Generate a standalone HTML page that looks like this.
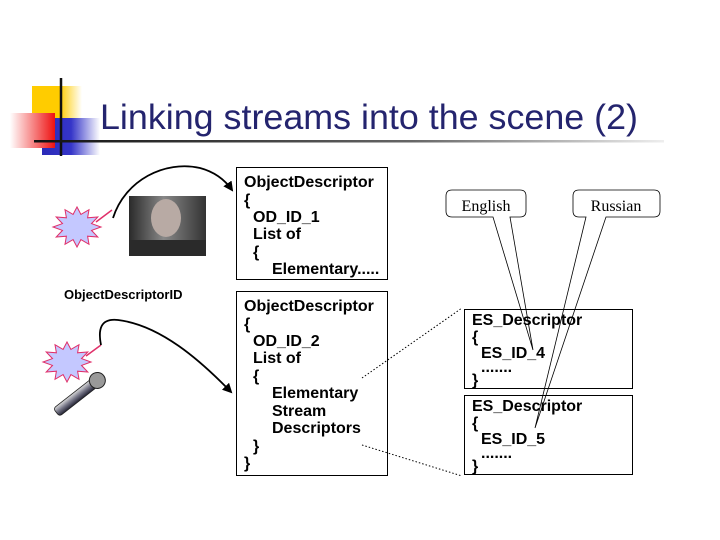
<!DOCTYPE html>
<html><head><meta charset="utf-8"><style>
html,body{margin:0;padding:0;background:#fff;}
svg{display:block;}
.t{font-family:"Liberation Sans",Arial,sans-serif;font-weight:bold;font-size:16px;fill:#000;}
</style></head><body>
<svg width="720" height="540" viewBox="0 0 720 540" xmlns="http://www.w3.org/2000/svg">
<defs>
<linearGradient id="yg" x1="0" x2="1"><stop offset="0" stop-color="#ffcc00"/><stop offset="0.55" stop-color="#ffcc00"/><stop offset="1" stop-color="#fff"/></linearGradient>
<linearGradient id="bg" x1="0" x2="1"><stop offset="0" stop-color="#2a2ab8"/><stop offset="0.5" stop-color="#3535c8"/><stop offset="1" stop-color="#fff"/></linearGradient>
<linearGradient id="rg" x1="0" x2="1"><stop offset="0" stop-color="#fff"/><stop offset="1" stop-color="#ee1111"/></linearGradient>
<linearGradient id="lg" x1="0" x2="1"><stop offset="0" stop-color="#111"/><stop offset="0.6" stop-color="#666"/><stop offset="1" stop-color="#eee"/></linearGradient>
<linearGradient id="mg" x1="0" x2="0" y1="0" y2="1"><stop offset="0" stop-color="#ddd"/><stop offset="0.5" stop-color="#778"/><stop offset="1" stop-color="#223"/></linearGradient>
<linearGradient id="ph" x1="0" x2="1"><stop offset="0" stop-color="#2a2a2a"/><stop offset="0.45" stop-color="#888"/><stop offset="1" stop-color="#333"/></linearGradient>
<path id="star" d="M24,0 L14.5,3.4 L20.8,10 L10.6,9.2 L12,17.3 L3.9,12.6 L0,20 L-3.9,12.6 L-12,17.3 L-10.6,9.2 L-20.8,10 L-14.5,3.4 L-24,0 L-14.5,-3.4 L-20.8,-10 L-10.6,-9.2 L-12,-17.3 L-3.9,-12.6 L0,-20 L3.9,-12.6 L12,-17.3 L10.6,-9.2 L20.8,-10 L14.5,-3.4 Z" fill="#c4c8ff" stroke="#e0306a" stroke-width="1"/>
<marker id="ar" markerWidth="10" markerHeight="10" refX="8" refY="5" orient="auto" markerUnits="userSpaceOnUse"><path d="M0,0 L10,5 L0,10 Z" fill="#000"/></marker>
</defs>
<rect x="32" y="86" width="50" height="33" fill="url(#yg)"/>
<rect x="42" y="118" width="58" height="37" fill="url(#bg)"/>
<rect x="10" y="113" width="45" height="35" fill="url(#rg)"/>
<line x1="61" y1="78" x2="61" y2="156" stroke="#111" stroke-width="2.5"/>
<rect x="34" y="140" width="630" height="2.5" fill="url(#lg)"/>
<text x="100" y="129" font-family="'Liberation Sans',Arial,sans-serif" font-size="35" fill="#24246e" textLength="538" lengthAdjust="spacingAndGlyphs">Linking streams into the scene (2)</text>
<rect x="236.5" y="167.5" width="151" height="112" fill="none" stroke="#000"/>
<rect x="236.5" y="291.5" width="151" height="184" fill="none" stroke="#000"/>
<rect x="464.5" y="309.5" width="168" height="79" fill="none" stroke="#000"/>
<rect x="464.5" y="395.5" width="168" height="79" fill="none" stroke="#000"/>
<g class="t">
<text x="244" y="187">ObjectDescriptor</text>
<text x="244" y="205">{</text>
<text x="253" y="222">OD_ID_1</text>
<text x="253" y="239">List of</text>
<text x="253" y="257">{</text>
<text x="272" y="274">Elementary.....</text>
<text x="244" y="311">ObjectDescriptor</text>
<text x="244" y="329">{</text>
<text x="253" y="346">OD_ID_2</text>
<text x="253" y="363">List of</text>
<text x="253" y="381">{</text>
<text x="272" y="398">Elementary</text>
<text x="272" y="416">Stream</text>
<text x="272" y="433">Descriptors</text>
<text x="253" y="451">}</text>
<text x="244" y="468">}</text>
<text x="472" y="325">ES_Descriptor</text>
<text x="472" y="342">{</text>
<text x="481" y="358">ES_ID_4</text>
<text x="481" y="372">.......</text>
<text x="472" y="385">}</text>
<text x="472" y="411">ES_Descriptor</text>
<text x="472" y="428">{</text>
<text x="481" y="444">ES_ID_5</text>
<text x="481" y="458">.......</text>
<text x="472" y="471">}</text>
<text x="64" y="299" font-size="13">ObjectDescriptorID</text>
</g>
<path d="M452,190 H520 Q526,190 526,196 V211 Q526,217 520,217 H510 L533,350 L493,217 H452 Q446,217 446,211 V196 Q446,190 452,190 Z" fill="none" stroke="#000" stroke-width="0.8"/>
<path d="M579,190 H654 Q660,190 660,196 V211 Q660,217 654,217 H606 L535,428 L586,217 H579 Q573,217 573,211 V196 Q573,190 579,190 Z" fill="none" stroke="#000" stroke-width="0.8"/>
<text x="486" y="211" text-anchor="middle" font-family="'Liberation Serif',serif" font-size="16">English</text>
<text x="616" y="211" text-anchor="middle" font-family="'Liberation Serif',serif" font-size="16">Russian</text>
<line x1="362" y1="378" x2="462" y2="308" stroke="#000" stroke-dasharray="1.5,2"/>
<line x1="362" y1="445" x2="462" y2="476" stroke="#000" stroke-dasharray="1.5,2"/>
<use href="#star" x="77" y="227"/>
<path d="M96,222 L112,210" stroke="#e0306a" stroke-width="1.5"/>
<use href="#star" x="67" y="362"/>
<path d="M86,356 L101,345" stroke="#e0306a" stroke-width="1.5"/>
<rect x="129" y="196" width="77" height="60" fill="url(#ph)"/>
<ellipse cx="166" cy="218" rx="15" ry="19" fill="#b8aaa4"/>
<rect x="130" y="240" width="76" height="16" fill="#2a2a2a"/>
<g transform="translate(80,394) rotate(-38)">
<rect x="-30" y="-5" width="48" height="10" rx="3" fill="url(#mg)" stroke="#222" stroke-width="0.8"/>
<ellipse cx="22" cy="0" rx="8" ry="8" fill="#999" stroke="#222"/>
</g>
<path d="M113,218 C125,180 165,160 200,168 C215,172 225,180 232,190" fill="none" stroke="#000" stroke-width="1.8" marker-end="url(#ar)"/>
<path d="M101,345 C98,330 100,318 118,320 C160,325 200,360 231,392" fill="none" stroke="#000" stroke-width="1.8" marker-end="url(#ar)"/>
</svg>
</body></html>
